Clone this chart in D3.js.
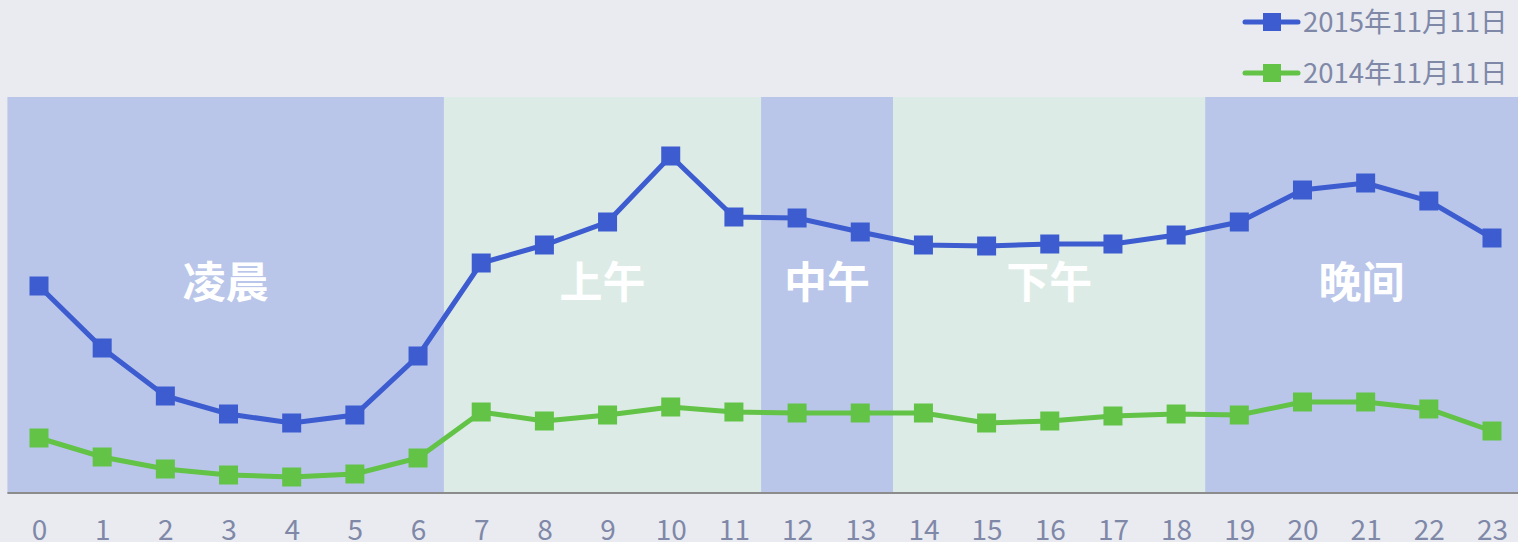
<!DOCTYPE html>
<html>
<head>
<meta charset="UTF-8">
<script src="https://d3js.org/d3.v7.min.js"></script>
<style>
  body { margin: 0; background: #e9ebf1; overflow: hidden; }
  svg { display: block; font-family: "Noto Sans CJK SC", "Noto Sans", sans-serif; }
</style>
</head>
<body>
<svg id="chart" width="1518" height="542"></svg>
<script>
// 小时
const hours = d3.range(0, 24);
const series2015 = [207, 145, 97, 79, 70, 78, 137, 230, 248, 271, 337, 276, 275, 261, 248, 247, 249, 249, 258, 271, 303, 310, 292, 255];
const series2014 = [55, 36, 24, 18, 16, 19, 35, 81, 72, 78, 86, 81, 80, 80, 80, 70, 72, 77, 79, 78, 91, 91, 84, 62];
// 时段（起止以小时计）
const periods = ['凌晨', '上午', '中午', '下午', '晚间'];
const periodStart = [-0.5, 6.41, 11.43, 13.52, 18.46];
const periodEnd = [6.41, 11.43, 13.52, 18.46, 23.5];
const legendLabels = ['2015年11月11日', '2014年11月11日'];

const svg = d3.select('#chart');
const x = d3.scaleLinear().domain([0, 23]).range([39, 1492]);
const y = d3.scaleLinear().domain([0, 396]).range([493, 97]);

const bandColor = ['#b9c6ea', '#ddebe6'];
const seriesColor = ['#3c5ccf', '#62c346'];
const textColor = '#8088a8';

// 时段背景
svg.append('g').selectAll('rect')
  .data(periods)
  .enter().append('rect')
  .attr('x', (d, i) => x(periodStart[i]))
  .attr('width', (d, i) => x(periodEnd[i]) - x(periodStart[i]))
  .attr('y', y(396))
  .attr('height', y(0) - y(396))
  .attr('fill', (d, i) => bandColor[i % 2]);

svg.append('g').selectAll('text')
  .data(periods)
  .enter().append('text')
  .attr('x', (d, i) => (x(periodStart[i]) + Math.min(x(periodEnd[i]), 1518)) / 2)
  .attr('y', 283)
  .attr('dy', '0.35em')
  .attr('text-anchor', 'middle')
  .attr('fill', '#fff')
  .attr('font-size', 43)
  .attr('font-weight', 'bold')
  .text(d => d);

// X 轴
const axis = svg.append('g')
  .attr('transform', `translate(0,${y(0)})`)
  .call(d3.axisBottom(x).tickValues(hours).tickSize(0).tickFormat(d3.format('d')));
axis.select('.domain').attr('stroke', '#8c8c8c').attr('stroke-width', 2).attr('d', `M${x(-0.5)},0H1518`);
axis.selectAll('text')
  .attr('y', 47).attr('dy', 0)
  .attr('fill', textColor).attr('font-size', 28)
  .attr('font-family', '"Noto Sans CJK SC", "Noto Sans", sans-serif');

// 折线
const line = d3.line().x((d, i) => x(hours[i])).y(d => y(d));
const allSeries = [series2014, series2015];
const allColors = [seriesColor[1], seriesColor[0]];

allSeries.forEach((s, k) => {
  svg.append('path')
    .datum(s)
    .attr('fill', 'none')
    .attr('stroke', allColors[k])
    .attr('stroke-width', 5)
    .attr('d', line);
  svg.append('g').selectAll('rect')
    .data(s)
    .enter().append('rect')
    .attr('x', (d, i) => x(hours[i]) - 9.5)
    .attr('y', d => y(d) - 9.5)
    .attr('width', 19)
    .attr('height', 19)
    .attr('fill', allColors[k]);
});

// 图例
const legend = svg.append('g').selectAll('g')
  .data(legendLabels)
  .enter().append('g')
  .attr('transform', (d, i) => `translate(1243,${22 + i * 51})`);
legend.append('line')
  .attr('x1', 2).attr('x2', 55)
  .attr('stroke', (d, i) => seriesColor[i])
  .attr('stroke-width', 5)
  .attr('stroke-linecap', 'round');
legend.append('rect')
  .attr('x', 20).attr('y', -9).attr('width', 18).attr('height', 18)
  .attr('fill', (d, i) => seriesColor[i]);
legend.append('text')
  .attr('x', 60)
  .attr('dy', '0.35em')
  .attr('fill', textColor)
  .attr('font-size', 27.5)
  .text(d => d);
</script>
</body>
</html>
